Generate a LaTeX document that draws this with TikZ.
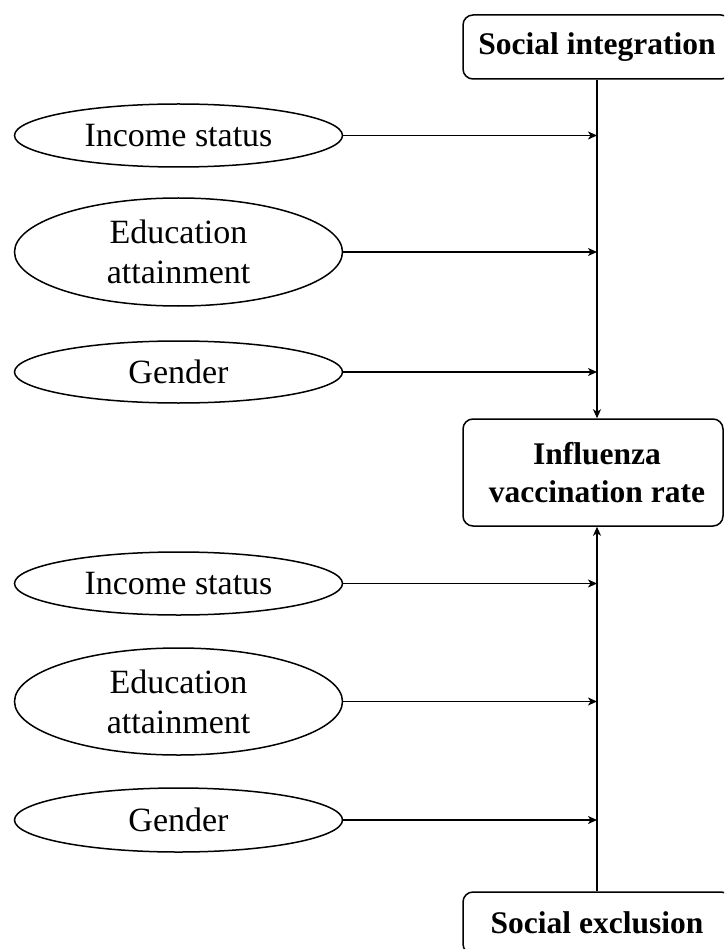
\documentclass[tikz,border=0pt]{standalone}
\usepackage{fontspec}
\setmainfont{Liberation Serif}
\usetikzlibrary{shapes.geometric,arrows.meta}
\begin{document}
\begin{tikzpicture}[x=1pt,y=-1pt,
  ell/.style={draw,ellipse,line width=1.5pt,minimum width=328pt,inner sep=0pt,
    font=\fontsize{34}{40}\selectfont,align=center},
  bx/.style={draw,rounded corners=10pt,line width=1.5pt,inner sep=0pt,
    font=\fontsize{31.5}{38}\selectfont\bfseries,align=center},
  arr/.style={line width=1.5pt,-{Stealth[length=9pt,width=8pt,inset=2.5pt]}}]
\useasboundingbox (0,0) rectangle (724,949);
\clip (0,0) rectangle (724,949);
\fill[white] (0,0) rectangle (724,949);

\node[bx,minimum width=268pt,minimum height=64pt] (top) at (597,47) {Social integration};
\node[bx,minimum width=260pt,minimum height=107pt] (mid) at (593,472.5) {\hspace*{8pt}Influenza\\\hspace*{8pt}vaccination rate};
\node[bx,minimum width=268pt,minimum height=62pt] (bot) at (597,923) {Social exclusion};

\node[ell,minimum height=63pt] (i1) at (178.5,135.5) {Income status};
\node[ell,minimum height=108pt] (e1) at (178.5,252) {Education\\attainment};
\node[ell,minimum height=62pt] (g1) at (178.5,372) {Gender};
\node[ell,minimum height=63pt] (i2) at (178.5,583.5) {Income status};
\node[ell,minimum height=107pt] (e2) at (178.5,701.5) {Education\\attainment};
\node[ell,minimum height=64pt] (g2) at (178.5,820) {Gender};

\draw[arr] (top.south) -- (top.south |- mid.north);
\draw[arr] (bot.north) -- (bot.north |- mid.south);

\draw[arr] (i1.east) -- (i1.east -| top.south);
\draw[arr] (e1.east) -- (e1.east -| top.south);
\draw[arr] (g1.east) -- (g1.east -| top.south);
\draw[arr] (i2.east) -- (i2.east -| bot.north);
\draw[arr] (e2.east) -- (e2.east -| bot.north);
\draw[arr] (g2.east) -- (g2.east -| bot.north);
\end{tikzpicture}
\end{document}
